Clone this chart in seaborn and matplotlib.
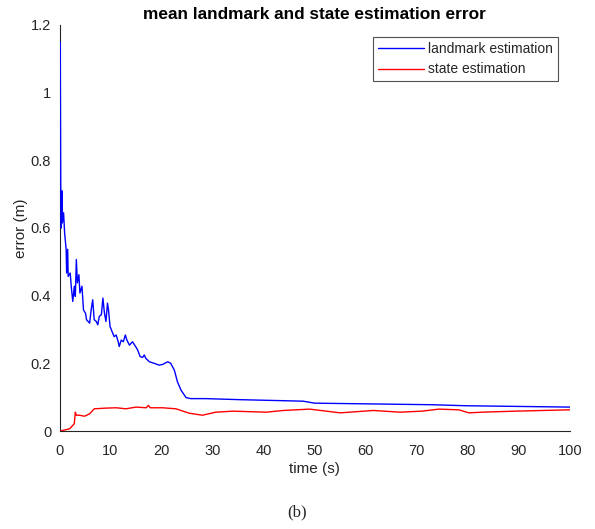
import numpy as np
import pandas as pd
import matplotlib
matplotlib.use("Agg")
import matplotlib.pyplot as plt
import seaborn as sns

# landmark estimation error (blue)
landmark_t = [0.15, 0.25, 0.35, 0.45, 0.55, 0.8, 1.0, 1.3, 1.4, 1.6, 1.7, 2.1, 2.3, 2.6, 2.9, 3.1,
              3.3, 3.5, 3.8, 4.0, 4.4, 4.7, 5.1, 5.3, 5.9, 6.2, 6.5, 6.8, 7.2, 7.5, 7.8, 8.2,
              8.5, 8.8, 9.1, 9.4, 9.6, 9.9, 10.3, 10.7, 11.1, 11.5, 11.7, 12.1, 12.5, 12.9,
              13.2, 13.7, 14.3, 14.9, 15.3, 15.8, 16.3, 16.6, 16.9, 17.6, 18.6, 19.5, 20.2,
              21.2, 21.8, 22.5, 23.1, 23.8, 24.8, 25.7, 28.7, 35.2, 47.7, 50.0, 73.0, 79.6, 100.0]
landmark_err = [1.15, 0.705, 0.60, 0.71, 0.615, 0.645, 0.586, 0.537, 0.467, 0.537, 0.457, 0.467,
                0.428, 0.383, 0.428, 0.398, 0.507, 0.438, 0.462, 0.408, 0.428, 0.358, 0.348,
                0.329, 0.319, 0.358, 0.388, 0.329, 0.324, 0.314, 0.339, 0.344, 0.393, 0.349,
                0.324, 0.378, 0.358, 0.309, 0.294, 0.279, 0.284, 0.264, 0.250, 0.269, 0.264,
                0.284, 0.269, 0.254, 0.264, 0.250, 0.240, 0.220, 0.218, 0.225, 0.215, 0.205,
                0.200, 0.195, 0.197, 0.205, 0.200, 0.180, 0.146, 0.121, 0.099, 0.096, 0.096,
                0.093, 0.0885, 0.0826, 0.078, 0.075, 0.071]

# state estimation error (red)
state_t = [0.0, 2.0, 2.6, 2.9, 3.1, 3.3, 3.9, 4.9, 5.9, 6.8, 9.1, 11.1, 13.0, 15.0, 17.0, 17.4,
           17.8, 20.2, 22.8, 25.4, 28.0, 30.6, 34.0, 40.5, 43.8, 49.0, 55.0, 61.5, 66.7, 71.0,
           74.3, 78.2, 80.2, 82.8, 89.3, 100.0]
state_err = [0.0, 0.007, 0.017, 0.022, 0.056, 0.047, 0.047, 0.044, 0.051, 0.066, 0.068, 0.069,
             0.066, 0.071, 0.069, 0.076, 0.069, 0.069, 0.066, 0.053, 0.047, 0.056, 0.059,
             0.056, 0.061, 0.065, 0.054, 0.061, 0.056, 0.059, 0.065, 0.063, 0.054, 0.056,
             0.059, 0.063]

series_names = ["landmark estimation", "state estimation"]
series_colors = ["#0000ff", "#ff0000"]
x_ticks = [0, 10, 20, 30, 40, 50, 60, 70, 80, 90, 100]
y_ticks = [0, 0.2, 0.4, 0.6, 0.8, 1.0, 1.2]
y_tick_labels = ["0", "0.2", "0.4", "0.6", "0.8", "1", "1.2"]

df = pd.concat([
    pd.DataFrame({"time": landmark_t, "error": landmark_err, "series": series_names[0]}),
    pd.DataFrame({"time": state_t, "error": state_err, "series": series_names[1]}),
], ignore_index=True)

sns.set_style("white")
plt.rcParams["font.family"] = ["Liberation Sans", "DejaVu Sans"]

fig = plt.figure(figsize=(5.95, 5.29), dpi=100)
ax = fig.add_axes([0.1, 0.185, 0.858, 0.768])

sns.lineplot(data=df, x="time", y="error", hue="series", hue_order=series_names,
             palette=dict(zip(series_names, series_colors)), linewidth=1.0,
             estimator=None, sort=False, ax=ax)
for ln in ax.lines:
    ln.set_zorder(5)

ax.set_xlim(0, 100)
ax.set_ylim(0, 1.2)
ax.set_xticks(x_ticks)
ax.set_xticklabels([str(v) for v in x_ticks])
ax.set_yticks(y_ticks)
ax.set_yticklabels(y_tick_labels)
ax.tick_params(direction="in", length=4, width=0.8, colors="#262626", labelsize=10.5,
               labelcolor="#262626")
ax.tick_params(axis="x", pad=9)
ax.tick_params(axis="y", pad=6)
for s in ["top", "right"]:
    ax.spines[s].set_visible(False)
for s in ["left", "bottom"]:
    ax.spines[s].set_color("#262626")
    ax.spines[s].set_linewidth(0.8)

ax.set_xlabel("time (s)", fontsize=11, color="#262626", labelpad=3)
ax.set_ylabel("error (m)", fontsize=11, color="#262626", labelpad=2)
ax.set_title("mean landmark and state estimation error", fontsize=12.4, fontweight="bold",
             color="#000000", pad=4)

leg = ax.legend(loc="upper right", fontsize=10, frameon=True, fancybox=False,
                borderpad=0.35, handlelength=3.3, handletextpad=0.3, labelspacing=0.45,
                borderaxespad=0.9)
leg.get_frame().set_edgecolor("#262626")
leg.get_frame().set_linewidth(0.8)
leg.set_title(None)

fig.text(0.5, 0.032, "(b)", ha="center", va="center", fontsize=12,
         family=["Liberation Serif", "DejaVu Serif"])

fig.savefig("out.png", dpi=100)
